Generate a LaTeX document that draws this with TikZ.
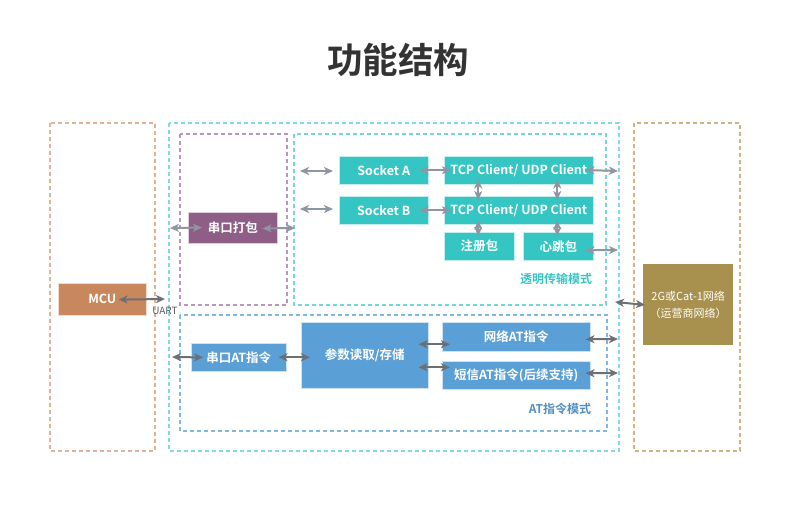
\documentclass[tikz,border=0pt]{standalone}
\usepackage{fontspec}
\setmainfont{Noto Sans CJK SC}[BoldFont={Noto Sans CJK SC Bold}]
\usetikzlibrary{arrows.meta}
\definecolor{mcuC}{HTML}{C8875C}
\definecolor{purC}{HTML}{8E5E87}
\definecolor{tealC}{HTML}{35C6C4}
\definecolor{blueC}{HTML}{5A9FD5}
\definecolor{goldC}{HTML}{A8904F}
\definecolor{dMcu}{HTML}{E2B495}
\definecolor{dCyan}{HTML}{80DCE0}
\definecolor{dPur}{HTML}{B898B8}
\definecolor{dTeal}{HTML}{74D6DA}
\definecolor{dBlue}{HTML}{7CB9E6}
\definecolor{dGold}{HTML}{CDB681}
\definecolor{arrL}{HTML}{8F96A3}
\definecolor{arrD}{HTML}{6C6F74}
\definecolor{titleC}{HTML}{333333}
\tikzset{
  dbox/.style={line width=1.1pt, dash pattern=on 4pt off 3pt},
  blk/.style={anchor=north west, inner sep=0pt, text=white, font=\bfseries\fontsize{12.5}{14}\selectfont, draw=white!70!#1, line width=0.5pt, fill=#1},
  arrlight/.style={{Stealth[length=9pt,width=8pt,inset=2.5pt]}-{Stealth[length=9pt,width=8pt,inset=2.5pt]}, line width=2pt, draw=arrL},
  arrdark/.style={{Stealth[length=9pt,width=8pt,inset=2.5pt]}-{Stealth[length=9pt,width=8pt,inset=2.5pt]}, line width=2pt, draw=arrD},
}
\begin{document}
\begin{tikzpicture}[x=1pt,y=-1pt]
\useasboundingbox (0,0) rectangle (790,506);
\node[font=\bfseries\fontsize{35.5}{40}\selectfont, text=titleC] (title) at (398,60) {功能结构};

% dashed frames
\draw[dbox, draw=dMcu] (50,123) rectangle (155,451);
\draw[dbox, draw=dCyan] (169,123) rectangle (619,451);
\draw[dbox, draw=dPur] (180,134) rectangle (287,305);
\draw[dbox, draw=dTeal] (294,134) rectangle (606,305);
\draw[dbox, draw=dBlue] (180,315) rectangle (607,431);
\draw[dbox, draw=dGold] (634,123) rectangle (740,451);

% blocks
\node[blk=mcuC, minimum width=88pt, minimum height=32pt] (mcu) at (58,283) {MCU};
\node[blk=purC, minimum width=89pt, minimum height=31pt] (pack) at (188,212) {串口打包};
\node[blk=tealC, minimum width=89pt, minimum height=28pt] (sa) at (339,156) {Socket A};
\node[blk=tealC, minimum width=89pt, minimum height=28pt] (sb) at (339,196) {Socket B};
\node[blk=tealC, minimum width=149pt, minimum height=28pt] (ta) at (444,156) {TCP Client/ UDP Client};
\node[blk=tealC, minimum width=149pt, minimum height=28pt] (tb) at (444,196) {TCP Client/ UDP Client};
\node[blk=tealC, minimum width=70pt, minimum height=28pt] (reg) at (444,232) {注册包};
\node[blk=tealC, minimum width=70pt, minimum height=28pt] (hb) at (523,232) {心跳包};
\node[blk=blueC, minimum width=95pt, minimum height=28pt] (sat) at (191,343) {串口AT指令};
\node[blk=blueC, minimum width=127pt, minimum height=66pt] (para) at (301,322) {参数读取/存储};
\node[blk=blueC, minimum width=148pt, minimum height=29pt] (net) at (442,322) {网络AT指令};
\node[blk=blueC, minimum width=148pt, minimum height=28pt] (sms) at (442,361) {短信AT指令(后续支持)};
\node[anchor=north west, inner sep=0pt, fill=goldC, minimum width=90pt, minimum height=81pt, align=center, text=white, font=\fontsize{11}{17}\selectfont] (g2) at (643,264) {2G或Cat-1网络\\（运营商网络）};

% labels
\node[text=tealC, font=\bfseries\fontsize{12}{14}\selectfont] (lt) at (556,279) {透明传输模式};
\node[text=blueC!90!black, font=\bfseries\fontsize{12}{14}\selectfont] (la) at (560,409) {AT指令模式};
\node[text=arrD!80!black, font=\fontsize{10}{12}\selectfont, anchor=north] (uart) at (165,304) {UART};

% free ends
\coordinate (mcuR) at (165,299);
\coordinate (packL) at (170,228);
\coordinate (packR) at (295,228);
\coordinate (saL) at (300,171);
\coordinate (sbL) at (300,209);
\coordinate (taR) at (618,171);
\coordinate (hbR) at (618,250);
\coordinate (g2L) at (615,302);
\coordinate (satL) at (172,357);
\coordinate (netR) at (618,339);
\coordinate (smsR) at (618,373);

% arrows, dark
\draw[arrdark, shorten <=-28pt] (mcu.east) -- (mcuR);
\draw[arrdark, shorten >=-2pt] (g2L) -- (g2.west);
\draw[arrdark, shorten >=-12pt] (satL) -- (sat.west);
\draw[arrdark, shorten <=-8pt, shorten >=-9pt] (sat.east) -- (sat.east -| para.west);
\draw[arrdark, shorten <=-10pt, shorten >=-8pt] ([yshift=11pt]para.east) -- ([yshift=11pt]para.east -| net.west);
\draw[arrdark, shorten <=-10pt, shorten >=-8pt] ([yshift=-12pt]para.east) -- ([yshift=-12pt]para.east -| sms.west);
\draw[arrdark, shorten <=-5pt] ([yshift=-2.5pt]net.east) -- (netR);
\draw[arrdark, shorten <=-5pt] ([yshift=2pt]sms.east) -- (smsR);

% arrows, light
\draw[arrlight, shorten >=-14pt] (packL) -- (pack.west);
\draw[arrlight, shorten <=-15pt] ([yshift=-0.5pt]pack.east) -- (packR);
\draw[arrlight, shorten >=6pt] (saL) -- (saL -| sa.west);
\draw[arrlight, shorten >=6pt] (sbL) -- (sbL -| sb.west);
\draw[arrlight, shorten <=-9pt, shorten >=-7pt] (sa.east) -- (ta.west);
\draw[arrlight, shorten <=-9pt, shorten >=-7pt] (sb.east) -- (tb.west);
\draw[arrlight, shorten <=-8pt] (ta.east) -- (taR);
\draw[arrlight, shorten <=-8pt] ([yshift=-4pt]hb.east) -- (hbR);
\draw[arrlight, shorten <=-5pt, shorten >=-4pt] ([xshift=-1pt]reg.north |- ta.south) -- ([xshift=-1pt]reg.north |- tb.north);
\draw[arrlight, shorten <=-5pt, shorten >=-4pt] ([xshift=-1pt]hb.north |- ta.south) -- ([xshift=-1pt]hb.north |- tb.north);
\draw[arrlight, shorten <=-4pt, shorten >=-4pt] ([xshift=-1pt]reg.north |- tb.south) -- ([xshift=-1pt]reg.north);
\draw[arrlight, shorten <=-4pt, shorten >=-4pt] ([xshift=-1pt]hb.north |- tb.south) -- ([xshift=-1pt]hb.north);
\end{tikzpicture}
\end{document}
